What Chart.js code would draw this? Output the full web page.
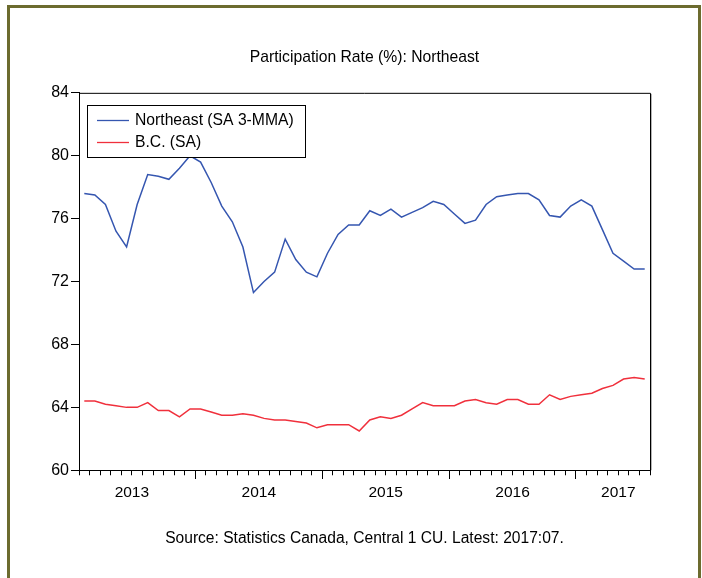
<!DOCTYPE html>
<html>
<head>
<meta charset="utf-8">
<script src="https://cdn.jsdelivr.net/npm/chart.js@4.4.8/dist/chart.umd.min.js"></script>
<style>
  html, body { margin: 0; padding: 0; background: #fff; }
  #wrap { position: relative; width: 702px; height: 578px; overflow: hidden; }
  #frame { position: absolute; left: 7px; top: 5px; width: 694px; height: 640px; border: 3px solid #6c6b2f; box-sizing: border-box; }
  #chart { position: absolute; left: 0; top: 0; }
</style>
</head>
<body>
<div id="wrap">
  <div id="frame"></div>
  <canvas id="chart" width="702" height="578"></canvas>
</div>
<script>
// monthly observations, 2013:02 .. 2017:07
const months = [
  "2013:02", "2013:03", "2013:04", "2013:05", "2013:06", "2013:07", "2013:08", "2013:09", "2013:10", "2013:11", "2013:12",
  "2014:01", "2014:02", "2014:03", "2014:04", "2014:05", "2014:06", "2014:07", "2014:08", "2014:09", "2014:10", "2014:11", "2014:12",
  "2015:01", "2015:02", "2015:03", "2015:04", "2015:05", "2015:06", "2015:07", "2015:08", "2015:09", "2015:10", "2015:11", "2015:12",
  "2016:01", "2016:02", "2016:03", "2016:04", "2016:05", "2016:06", "2016:07", "2016:08", "2016:09", "2016:10", "2016:11", "2016:12",
  "2017:01", "2017:02", "2017:03", "2017:04", "2017:05", "2017:06", "2017:07"
];

const northeast = [
  77.6, 77.5, 76.9, 75.2, 74.2, 76.9, 78.8, 78.7, 78.5, 79.2, 80.0,
  79.6, 78.3, 76.8, 75.8, 74.2, 71.3, 72.0, 72.6, 74.7, 73.4, 72.6, 72.3,
  73.8, 75.0, 75.6, 75.6, 76.5, 76.2, 76.6, 76.1, 76.4, 76.7, 77.1, 76.9,
  76.3, 75.7, 75.9, 76.9, 77.4, 77.5, 77.6, 77.6, 77.2, 76.2, 76.1, 76.8,
  77.2, 76.8, 75.3, 73.8, 73.3, 72.8, 72.8
];

const bc = [
  64.4, 64.4, 64.2, 64.1, 64.0, 64.0, 64.3, 63.8, 63.8, 63.4, 63.9,
  63.9, 63.7, 63.5, 63.5, 63.6, 63.5, 63.3, 63.2, 63.2, 63.1, 63.0, 62.7,
  62.9, 62.9, 62.9, 62.5, 63.2, 63.4, 63.3, 63.5, 63.9, 64.3, 64.1, 64.1,
  64.1, 64.4, 64.5, 64.3, 64.2, 64.5, 64.5, 64.2, 64.2, 64.8, 64.5, 64.7,
  64.8, 64.9, 65.2, 65.4, 65.8, 65.9, 65.8
];

const seriesNames = ["Northeast (SA 3-MMA)", "B.C. (SA)"];
const yearLabels = ["2013", "2014", "2015", "2016", "2017"];
const yearLabelMonths = ["2013:07", "2014:07", "2015:07", "2016:07", "2017:05"];
const yTicks = [60, 64, 68, 72, 76, 80, 84];

const FONT = '"Liberation Sans", Arial, Helvetica, sans-serif';
Chart.defaults.font.family = FONT;
Chart.defaults.color = "#000";

// x runs on a continuous month scale: month k spans [k, k+1], value sits mid-month
function toPoints(values) {
  return values.map((v, k) => ({ x: k + 0.5, y: v }));
}

const labelAt = {};
yearLabelMonths.forEach((m, i) => { labelAt[months.indexOf(m)] = yearLabels[i]; });

const plotFrame = {
  id: "plotFrame",
  afterDraw(chart) {
    const { ctx, chartArea: a } = chart;
    ctx.save();
    ctx.strokeStyle = "#000";
    ctx.lineWidth = 1;
    ctx.beginPath();
    ctx.moveTo(a.left, a.top + 0.5);
    ctx.lineTo(a.right + 0.5, a.top + 0.5);
    ctx.lineTo(a.right + 0.5, a.bottom);
    ctx.stroke();
    ctx.strokeStyle = "#b4b4b4";
    ctx.beginPath();
    ctx.moveTo(a.right + 1.5, a.top + 1);
    ctx.lineTo(a.right + 1.5, a.bottom);
    ctx.stroke();
    ctx.restore();
  }
};

const legendBox = {
  id: "legendBox",
  afterDatasetsDraw(chart) {
    const { ctx, chartArea: a } = chart;
    const x = Math.round(a.left) + 8;
    const y = Math.round(a.top) + 12;
    ctx.save();
    ctx.fillStyle = "#fff";
    ctx.fillRect(x, y, 218, 52);
    ctx.strokeStyle = "#000";
    ctx.lineWidth = 1;
    ctx.strokeRect(x + 0.5, y + 0.5, 218, 52);
    ctx.font = "15.7px " + FONT;
    ctx.textBaseline = "middle";
    chart.data.datasets.forEach((ds, i) => {
      const cy = y + 15.5 + i * 22;
      ctx.strokeStyle = ds.borderColor;
      ctx.lineWidth = 1.3;
      ctx.beginPath();
      ctx.moveTo(x + 10, cy);
      ctx.lineTo(x + 42, cy);
      ctx.stroke();
      ctx.fillStyle = "#000";
      ctx.fillText(ds.label, x + 48, cy);
    });
    ctx.restore();
  }
};

new Chart(document.getElementById("chart"), {
  type: "line",
  data: {
    datasets: [
      { label: seriesNames[0], data: toPoints(northeast), borderColor: "#3556b0", borderWidth: 1.5, pointRadius: 0, tension: 0 },
      { label: seriesNames[1], data: toPoints(bc), borderColor: "#f0303c", borderWidth: 1.5, pointRadius: 0, tension: 0 }
    ]
  },
  options: {
    responsive: false,
    animation: false,
    layout: { padding: { left: 0, right: 52, top: 0, bottom: 0 } },
    plugins: {
      legend: { display: false },
      tooltip: { enabled: false },
      title: {
        display: true,
        fullSize: false,
        text: "Participation Rate (%): Northeast",
        font: { size: 15.7, weight: "normal" },
        color: "#000",
        padding: { top: 48, bottom: 26 }
      },
      subtitle: {
        display: true,
        fullSize: false,
        position: "bottom",
        text: "Source: Statistics Canada, Central 1 CU. Latest: 2017:07.",
        font: { size: 15.6, weight: "normal" },
        color: "#000",
        padding: { top: 27, bottom: 30 }
      }
    },
    scales: {
      x: {
        type: "linear",
        min: 0,
        max: months.length,
        afterBuildTicks: s => { s.ticks = months.map((m, k) => ({ value: k })).concat([{ value: months.length }]); },
        afterFit: s => { s.height = 32; },
        grid: { drawOnChartArea: false, tickLength: 5, tickColor: "#000" },
        border: { color: "#000", width: 1 },
        ticks: {
          autoSkip: false, maxRotation: 0, padding: 8, color: "#000",
          font: { size: 15.5 },
          callback: v => labelAt[v] || ""
        }
      },
      xMajor: {
        type: "linear",
        axis: "x",
        min: 0,
        max: months.length,
        position: { y: 60 },
        afterBuildTicks: s => { s.ticks = months.map((m, k) => (m.endsWith(":01") ? { value: k } : null)).filter(Boolean); },
        grid: { drawOnChartArea: false, tickLength: 9, tickColor: "#000" },
        border: { display: false },
        ticks: { display: false }
      },
      y: {
        min: 60,
        max: 84,
        afterBuildTicks: s => { s.ticks = yTicks.map(v => ({ value: v })); },
        afterFit: s => { s.width = 79; },
        grid: { drawOnChartArea: false, tickLength: 8, tickColor: "#000" },
        border: { color: "#000", width: 1 },
        ticks: { padding: 2, color: "#000", font: { size: 16 } }
      }
    }
  },
  plugins: [plotFrame, legendBox]
});
</script>
</body>
</html>
